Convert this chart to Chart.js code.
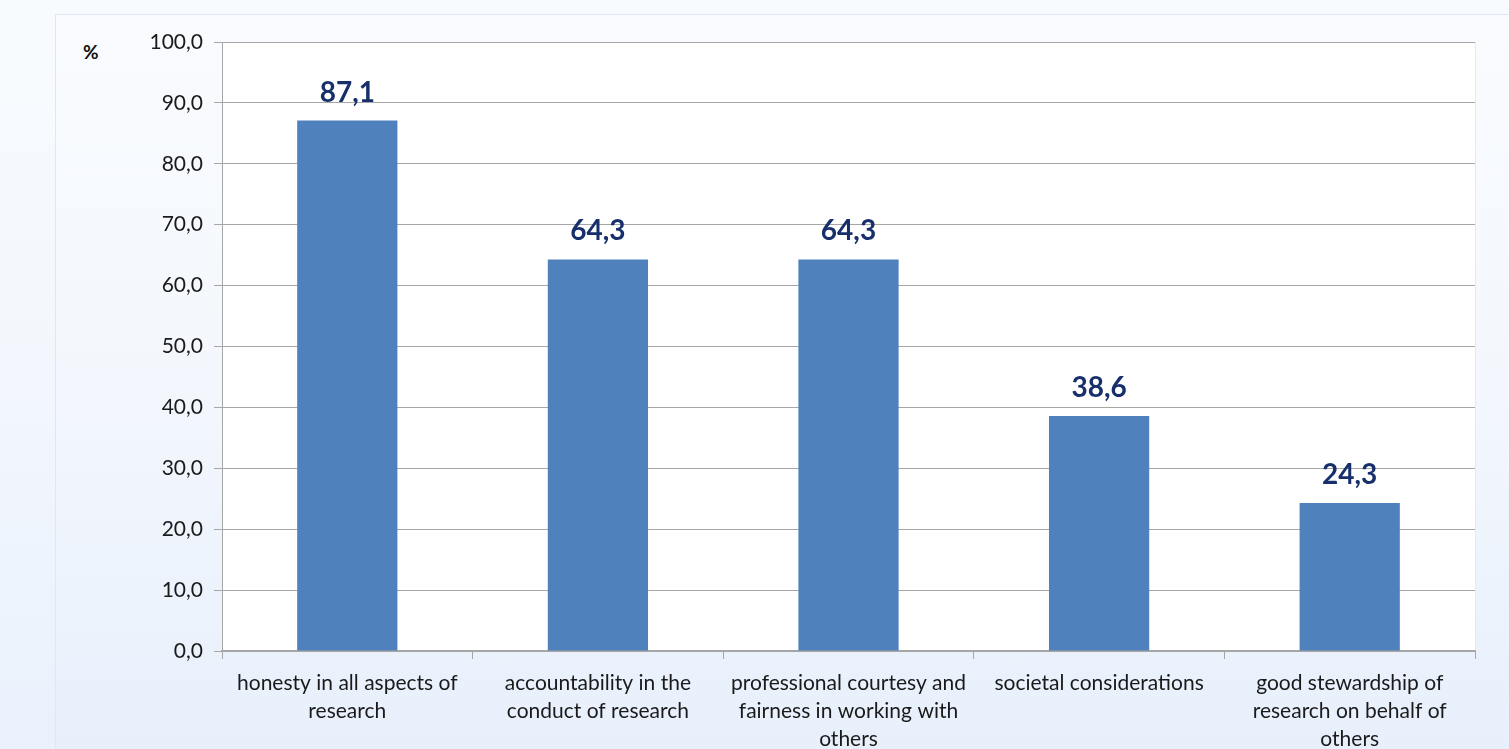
<!DOCTYPE html>
<html>
<head>
<meta charset="utf-8">
<script src="https://cdn.jsdelivr.net/npm/chart.js@4"></script>
<style>
  html, body { margin: 0; padding: 0; width: 1509px; height: 749px; overflow: hidden; }
  body { background: linear-gradient(#f8fbfe 0%, #f3f7fd 50%, #e8f1fc 100%); position: relative; font-family: Lato, sans-serif; }
  #panel {
    position: absolute; left: 55px; top: 14px; width: 1470px; height: 760px;
    border: 1px solid #dde8f4;
    background: linear-gradient(#f9fbfe 0%, #f3f7fd 50%, #e6effb 100%);
  }
  #pct { position: absolute; left: 83px; top: 40px; font: bold 19px Lato, sans-serif; color: #111; }
  #wrap { position: absolute; left: 0; top: 0; width: 1509px; height: 749px; }
</style>
</head>
<body>
<div id="panel"></div>
<div id="pct">%</div>
<div id="wrap"><canvas id="chart"></canvas></div>
<script>
// categorias do eixo x (quebradas em linhas)
const categories = [
    ["honesty in all aspects of", "research"],
    ["accountability in the", "conduct of research"],
    ["professional courtesy and", "fairness in working with", "others"],
    ["societal considerations"],
    ["good stewardship of", "research on behalf of", "others"],
];

// valores em %
const values = [87.1, 64.3, 64.3, 38.6, 24.3];

// marcas do eixo y
const yTicks = [0, 10, 20, 30, 40, 50, 60, 70, 80, 90, 100];

const fmt = (v) => v.toFixed(1).replace(".", ",");

// fundo branco da área do gráfico
const plotBg = {
    id: "plotBg",
    beforeDraw(chart) {
        const { ctx, chartArea: a } = chart;
        ctx.save();
        ctx.fillStyle = "#ffffff";
        ctx.fillRect(a.left, a.top, a.right - a.left, a.bottom - a.top);
        ctx.strokeStyle = "#e3ebf5";
        ctx.lineWidth = 1;
        ctx.beginPath();
        ctx.moveTo(a.right + 0.5, a.top);
        ctx.lineTo(a.right + 0.5, a.bottom);
        ctx.stroke();
        ctx.restore();
    },
};

// rótulos de valor acima das barras
const valueLabels = {
    id: "valueLabels",
    afterDatasetsDraw(chart) {
        const { ctx } = chart;
        const meta = chart.getDatasetMeta(0);
        ctx.save();
        ctx.font = "bold 28px Lato, sans-serif";
        ctx.fillStyle = "#17306b";
        ctx.textAlign = "center";
        ctx.textBaseline = "bottom";
        meta.data.forEach((bar, i) => {
            ctx.fillText(fmt(values[i]), bar.x, bar.y - 14);
        });
        ctx.restore();
    },
};

new Chart(document.getElementById("chart"), {
    type: "bar",
    plugins: [plotBg, valueLabels],
    data: {
        labels: categories,
        datasets: [
            {
                data: values,
                backgroundColor: "#4f81bd",
                barPercentage: 0.4,
                categoryPercentage: 1,
            },
        ],
    },
    options: {
        responsive: true,
        maintainAspectRatio: false,
        animation: false,
        layout: { padding: { top: 42, right: 34, left: 0, bottom: 0 } },
        plugins: { legend: { display: false }, tooltip: { enabled: false } },
        scales: {
            x: {
                afterFit: (s) => { s.height = 98; },
                grid: {
                    offset: true,
                    drawOnChartArea: false,
                    tickLength: 8,
                    color: "#a6a6a6",
                },
                border: { color: "#a6a6a6", width: 2 },
                ticks: {
                    color: "#1a1a1a",
                    font: { family: "Lato", size: 21, lineHeight: 1.33 },
                    maxRotation: 0,
                    autoSkip: false,
                    padding: 10,
                },
            },
            y: {
                min: 0,
                max: 100,
                afterFit: (s) => { s.width = 222; },
                afterBuildTicks: (s) => { s.ticks = yTicks.map((v) => ({ value: v })); },
                grid: { color: "#a6a6a6", tickLength: 8 },
                border: { color: "#a6a6a6", width: 1 },
                ticks: {
                    color: "#1a1a1a",
                    font: { family: "Lato", size: 21 },
                    padding: 11,
                    callback: (v) => fmt(v),
                },
            },
        },
    },
});
</script>
</body>
</html>
